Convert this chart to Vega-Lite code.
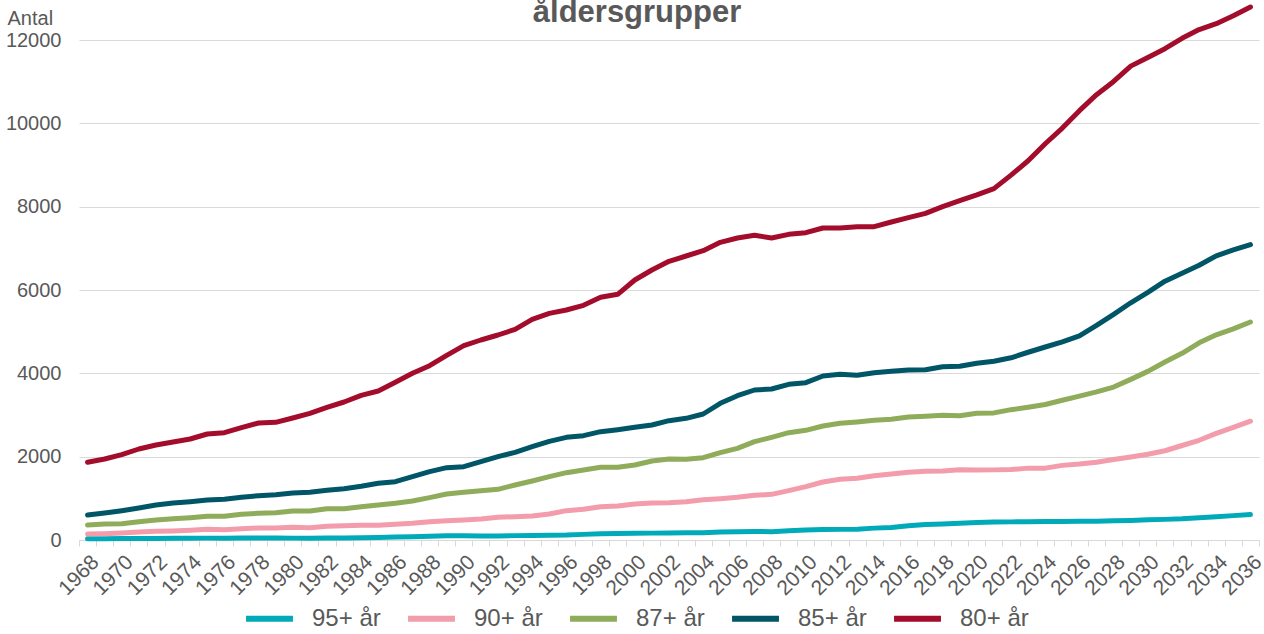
{
  "$schema": "https://vega.github.io/schema/vega-lite/v6.json",
  "width": 1180,
  "height": 540,
  "autosize": {"type": "none"},
  "padding": {"left": 79, "top": 0, "right": 5, "bottom": 94},
  "background": "white",
  "config": {
    "font": "Liberation Sans",
    "view": {"stroke": null},
    "axis": {"labelColor": "#595959", "titleColor": "#595959", "labelFont": "Liberation Sans", "titleFont": "Liberation Sans"}
  },
  "title": {
    "text": "åldersgrupper",
    "anchor": "middle",
    "frame": "group",
    "fontSize": 31,
    "fontWeight": "bold",
    "color": "#595959",
    "offset": -29,
    "dx": -32
  },
  "data": {
    "values": [
      {"year": 1968, "80+ år": 1865, "85+ år": 600, "87+ år": 360, "90+ år": 144, "95+ år": 30},
      {"year": 1969, "80+ år": 1944, "85+ år": 648, "87+ år": 384, "90+ år": 152, "95+ år": 30},
      {"year": 1970, "80+ år": 2048, "85+ år": 704, "87+ år": 392, "90+ år": 168, "95+ år": 35},
      {"year": 1971, "80+ år": 2184, "85+ år": 768, "87+ år": 440, "90+ år": 192, "95+ år": 35},
      {"year": 1972, "80+ år": 2280, "85+ år": 840, "87+ år": 480, "90+ år": 208, "95+ år": 38},
      {"year": 1973, "80+ år": 2352, "85+ år": 888, "87+ år": 512, "90+ år": 216, "95+ år": 40},
      {"year": 1974, "80+ år": 2424, "85+ år": 920, "87+ år": 536, "90+ år": 232, "95+ år": 40},
      {"year": 1975, "80+ år": 2544, "85+ år": 960, "87+ år": 568, "90+ år": 256, "95+ år": 45},
      {"year": 1976, "80+ år": 2576, "85+ år": 976, "87+ år": 568, "90+ år": 248, "95+ år": 45},
      {"year": 1977, "80+ år": 2696, "85+ år": 1024, "87+ år": 616, "90+ år": 272, "95+ år": 48},
      {"year": 1978, "80+ år": 2808, "85+ år": 1064, "87+ år": 640, "90+ år": 288, "95+ år": 50},
      {"year": 1979, "80+ år": 2824, "85+ år": 1088, "87+ år": 656, "90+ år": 288, "95+ år": 50},
      {"year": 1980, "80+ år": 2928, "85+ år": 1128, "87+ år": 696, "90+ år": 304, "95+ år": 45},
      {"year": 1981, "80+ år": 3040, "85+ år": 1144, "87+ år": 696, "90+ år": 296, "95+ år": 45},
      {"year": 1982, "80+ år": 3184, "85+ år": 1192, "87+ år": 752, "90+ år": 328, "95+ år": 48},
      {"year": 1983, "80+ år": 3312, "85+ år": 1232, "87+ år": 752, "90+ år": 344, "95+ år": 50},
      {"year": 1984, "80+ år": 3472, "85+ år": 1288, "87+ år": 800, "90+ år": 352, "95+ år": 55},
      {"year": 1985, "80+ år": 3576, "85+ år": 1360, "87+ år": 840, "90+ år": 352, "95+ år": 60},
      {"year": 1986, "80+ år": 3784, "85+ år": 1400, "87+ år": 880, "90+ år": 376, "95+ år": 70},
      {"year": 1987, "80+ år": 4000, "85+ år": 1520, "87+ år": 936, "90+ år": 400, "95+ år": 80},
      {"year": 1988, "80+ år": 4184, "85+ år": 1640, "87+ år": 1016, "90+ år": 440, "95+ år": 90},
      {"year": 1989, "80+ år": 4432, "85+ år": 1736, "87+ år": 1104, "90+ år": 464, "95+ år": 100},
      {"year": 1990, "80+ år": 4664, "85+ år": 1760, "87+ år": 1144, "90+ år": 480, "95+ år": 100},
      {"year": 1991, "80+ år": 4800, "85+ år": 1880, "87+ år": 1184, "90+ år": 504, "95+ år": 95},
      {"year": 1992, "80+ år": 4920, "85+ år": 2000, "87+ år": 1216, "90+ år": 544, "95+ år": 95},
      {"year": 1993, "80+ år": 5056, "85+ år": 2104, "87+ år": 1320, "90+ år": 560, "95+ år": 105},
      {"year": 1994, "80+ år": 5296, "85+ år": 2240, "87+ år": 1416, "90+ år": 576, "95+ år": 110},
      {"year": 1995, "80+ år": 5440, "85+ år": 2368, "87+ år": 1520, "90+ år": 624, "95+ år": 115},
      {"year": 1996, "80+ år": 5520, "85+ år": 2464, "87+ år": 1616, "90+ år": 704, "95+ år": 120},
      {"year": 1997, "80+ år": 5632, "85+ år": 2504, "87+ år": 1680, "90+ år": 736, "95+ år": 135},
      {"year": 1998, "80+ år": 5824, "85+ år": 2600, "87+ år": 1744, "90+ år": 800, "95+ år": 150},
      {"year": 1999, "80+ år": 5896, "85+ år": 2648, "87+ år": 1744, "90+ år": 816, "95+ år": 155},
      {"year": 2000, "80+ år": 6240, "85+ år": 2704, "87+ år": 1800, "90+ år": 864, "95+ år": 160},
      {"year": 2001, "80+ år": 6480, "85+ år": 2760, "87+ år": 1896, "90+ år": 888, "95+ år": 165},
      {"year": 2002, "80+ år": 6688, "85+ år": 2864, "87+ år": 1944, "90+ år": 896, "95+ år": 170},
      {"year": 2003, "80+ år": 6816, "85+ år": 2920, "87+ år": 1936, "90+ år": 920, "95+ år": 176},
      {"year": 2004, "80+ år": 6944, "85+ år": 3024, "87+ år": 1976, "90+ år": 968, "95+ år": 176},
      {"year": 2005, "80+ år": 7144, "85+ år": 3280, "87+ år": 2096, "90+ år": 992, "95+ år": 190},
      {"year": 2006, "80+ år": 7248, "85+ år": 3464, "87+ år": 2200, "90+ år": 1024, "95+ år": 200},
      {"year": 2007, "80+ år": 7312, "85+ år": 3600, "87+ år": 2360, "90+ år": 1072, "95+ år": 205},
      {"year": 2008, "80+ år": 7248, "85+ år": 3624, "87+ år": 2464, "90+ år": 1096, "95+ år": 200},
      {"year": 2009, "80+ år": 7336, "85+ år": 3736, "87+ år": 2576, "90+ år": 1184, "95+ år": 220},
      {"year": 2010, "80+ år": 7376, "85+ år": 3776, "87+ år": 2632, "90+ år": 1280, "95+ år": 240},
      {"year": 2011, "80+ år": 7488, "85+ år": 3936, "87+ år": 2736, "90+ år": 1392, "95+ år": 250},
      {"year": 2012, "80+ år": 7488, "85+ år": 3976, "87+ år": 2800, "90+ år": 1456, "95+ år": 255},
      {"year": 2013, "80+ år": 7520, "85+ år": 3952, "87+ år": 2832, "90+ år": 1480, "95+ år": 260},
      {"year": 2014, "80+ år": 7520, "85+ år": 4016, "87+ år": 2872, "90+ år": 1544, "95+ år": 285},
      {"year": 2015, "80+ år": 7632, "85+ år": 4048, "87+ år": 2896, "90+ år": 1584, "95+ år": 300},
      {"year": 2016, "80+ år": 7736, "85+ år": 4080, "87+ år": 2952, "90+ år": 1624, "95+ år": 340},
      {"year": 2017, "80+ år": 7840, "85+ år": 4088, "87+ år": 2968, "90+ år": 1648, "95+ år": 370},
      {"year": 2018, "80+ år": 8000, "85+ år": 4160, "87+ år": 2992, "90+ år": 1656, "95+ år": 385},
      {"year": 2019, "80+ år": 8144, "85+ år": 4168, "87+ år": 2984, "90+ år": 1688, "95+ år": 400},
      {"year": 2020, "80+ år": 8282, "85+ år": 4240, "87+ år": 3040, "90+ år": 1680, "95+ år": 420},
      {"year": 2021, "80+ år": 8432, "85+ år": 4289, "87+ år": 3050, "90+ år": 1683, "95+ år": 430},
      {"year": 2022, "80+ år": 8758, "85+ år": 4373, "87+ år": 3128, "90+ år": 1690, "95+ år": 435},
      {"year": 2023, "80+ år": 9101, "85+ år": 4506, "87+ år": 3187, "90+ år": 1725, "95+ år": 438},
      {"year": 2024, "80+ år": 9510, "85+ år": 4632, "87+ år": 3253, "90+ år": 1725, "95+ år": 445},
      {"year": 2025, "80+ år": 9886, "85+ år": 4757, "87+ år": 3353, "90+ år": 1791, "95+ år": 442},
      {"year": 2026, "80+ år": 10304, "85+ år": 4899, "87+ år": 3454, "90+ år": 1824, "95+ år": 448},
      {"year": 2027, "80+ år": 10688, "85+ år": 5150, "87+ år": 3554, "90+ år": 1867, "95+ år": 452},
      {"year": 2028, "80+ år": 11006, "85+ år": 5417, "87+ år": 3671, "90+ år": 1934, "95+ år": 460},
      {"year": 2029, "80+ år": 11373, "85+ år": 5693, "87+ år": 3855, "90+ år": 1992, "95+ år": 470},
      {"year": 2030, "80+ år": 11582, "85+ år": 5943, "87+ år": 4047, "90+ år": 2059, "95+ år": 485},
      {"year": 2031, "80+ år": 11791, "85+ år": 6211, "87+ år": 4272, "90+ år": 2142, "95+ år": 495},
      {"year": 2032, "80+ år": 12041, "85+ år": 6403, "87+ år": 4481, "90+ år": 2268, "95+ år": 510},
      {"year": 2033, "80+ år": 12250, "85+ år": 6595, "87+ år": 4732, "90+ år": 2393, "95+ år": 535},
      {"year": 2034, "80+ år": 12391, "85+ år": 6820, "87+ år": 4924, "90+ år": 2560, "95+ år": 560},
      {"year": 2035, "80+ år": 12583, "85+ år": 6962, "87+ år": 5066, "90+ år": 2702, "95+ år": 585},
      {"year": 2036, "80+ år": 12792, "85+ år": 7088, "87+ år": 5232, "90+ år": 2851, "95+ år": 610}
    ]
  },
  "transform": [
    {"fold": ["95+ år", "90+ år", "87+ år", "85+ år", "80+ år"], "as": ["group", "value"]}
  ],
  "mark": {"type": "line", "strokeWidth": 5, "strokeCap": "round", "strokeJoin": "round"},
  "encoding": {
    "x": {
      "field": "year",
      "type": "ordinal",
      "bandPosition": 0.5,
      "scale": {"type": "band", "paddingInner": 0, "paddingOuter": 0},
      "axis": {
        "title": null,
        "labelAngle": -45,
        "labelFontSize": 21,
        "labelOverlap": false,
        "labelExpr": "datum.value % 2 == 0 ? datum.label : ''",
        "tickBand": "extent",
        "tickColor": "#D9D9D9",
        "tickSize": 6,
        "domainColor": "#D9D9D9",
        "domainWidth": 1,
        "labelPadding": 5,
        "grid": false
      }
    },
    "y": {
      "field": "value",
      "type": "quantitative",
      "scale": {"domain": [0, 12960], "nice": false},
      "axis": {
        "values": [0, 2000, 4000, 6000, 8000, 10000, 12000],
        "format": "d",
        "title": "Antal",
        "titleAngle": 0,
        "titleX": -72,
        "titleY": 24,
        "titleAlign": "left",
        "titleBaseline": "alphabetic",
        "titleFontSize": 20,
        "titleFontWeight": "normal",
        "labelFontSize": 20,
        "labelPadding": 18,
        "ticks": false,
        "tickSize": 0,
        "domain": false,
        "grid": true,
        "gridColor": "#D9D9D9",
        "gridWidth": 1
      }
    },
    "color": {
      "field": "group",
      "type": "nominal",
      "scale": {
        "domain": ["95+ år", "90+ år", "87+ år", "85+ år", "80+ år"],
        "range": ["#00AAB8", "#F39CAB", "#8FAC5A", "#005566", "#A30D2B"]
      },
      "legend": {
        "title": null,
        "orient": "none",
        "direction": "horizontal",
        "legendX": 164,
        "legendY": 592,
        "symbolType": "stroke",
        "symbolSize": 2200,
        "symbolStrokeWidth": 6,
        "labelFontSize": 24,
        "labelColor": "#595959",
        "labelOffset": 16,
        "columnPadding": 15
      }
    }
  }
}
